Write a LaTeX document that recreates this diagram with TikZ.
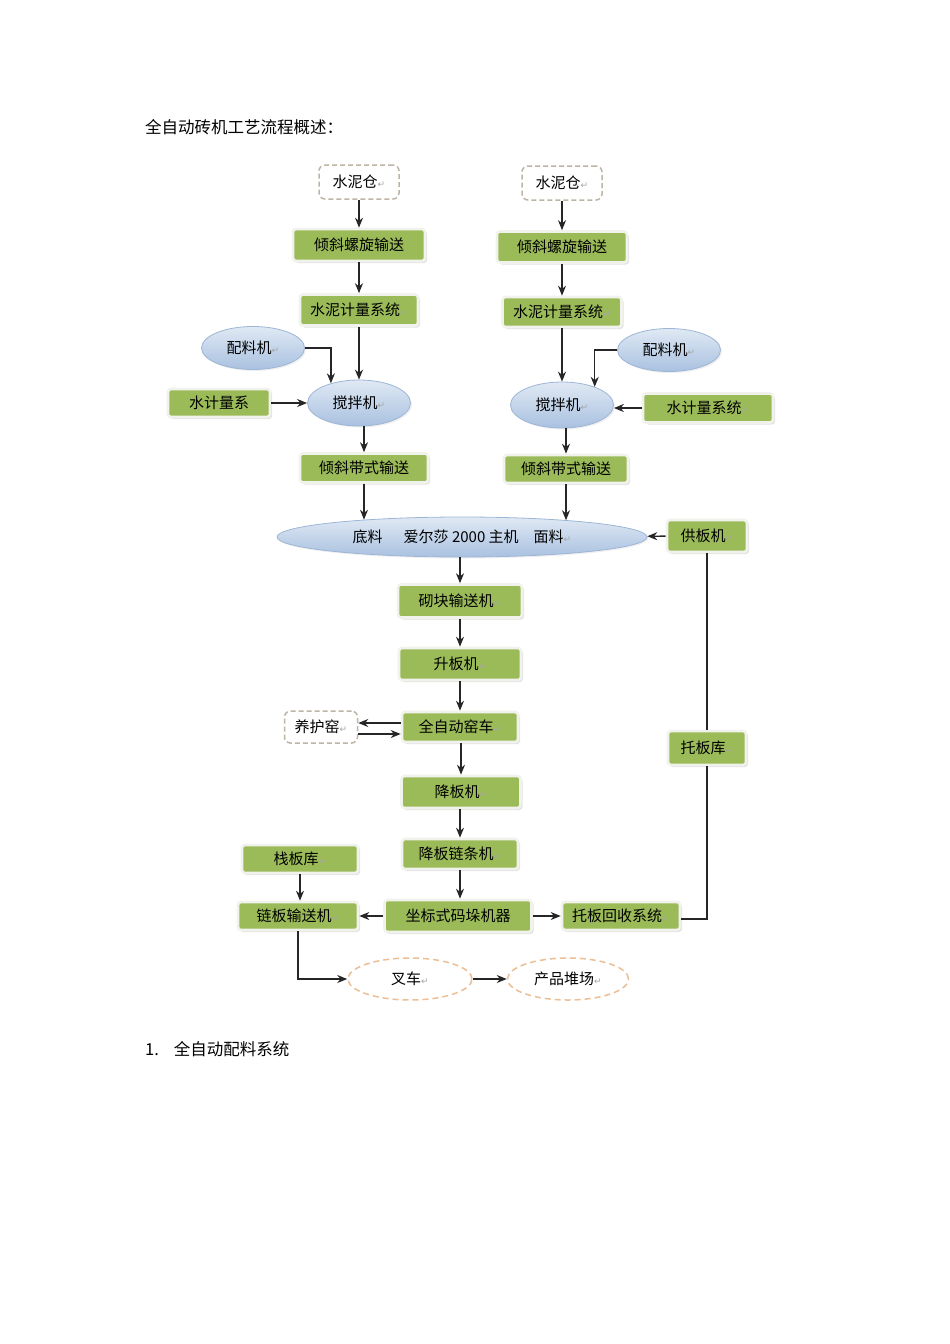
\documentclass[tikz,border=0pt]{standalone}
\usepackage{fontspec}
\setmainfont{Noto Sans CJK SC}
\newfontfamily\dvs{DejaVu Sans}
\usetikzlibrary{arrows.meta,positioning,shapes.geometric,shadows}
\definecolor{gfill}{HTML}{9BBB59}
\definecolor{grim}{HTML}{F2F2EC}
\definecolor{etop}{HTML}{E0E9F4}
\definecolor{ebot}{HTML}{A9C1E0}
\definecolor{eline}{HTML}{9DB5D6}
\definecolor{dbox}{HTML}{BDB5A6}
\definecolor{dell}{HTML}{EBBE94}
\newcommand{\parmk}{{\dvs\fontsize{9}{9}\selectfont\color{gray!70}↵}}
\tikzset{
  txt/.style={font=\fontsize{15}{18}\selectfont,inner sep=0pt,align=center},
  gbox/.style={txt,rectangle,fill=gfill,draw=grim,line width=2.6pt,rounded corners=3pt,
    drop shadow={shadow xshift=2pt,shadow yshift=-2pt,fill=gray!45}},
  bell/.style={txt,ellipse,top color=etop,bottom color=ebot,draw=eline,line width=0.8pt,
    drop shadow={shadow xshift=1.5pt,shadow yshift=-1.5pt,fill=gray!25}},
  dbx/.style={txt,rectangle,fill=white,draw=dbox,line width=1.5pt,dash pattern=on 5pt off 3pt,rounded corners=6pt},
  dell/.style={txt,ellipse,fill=white,draw=dell,line width=1.5pt,dash pattern=on 6pt off 4pt},
  ar/.style={-{Stealth[length=10pt,width=8pt]},line width=1.4pt,draw=black!85},
  ln/.style={line width=1.4pt,draw=black!85},
}
\begin{document}
\begin{tikzpicture}[x=1pt,y=-1pt]
\useasboundingbox (0,0) rectangle (950,1344);
\node[anchor=west,font=\fontsize{16.5}{20}\selectfont,inner sep=0pt] (title) at (145,127) {全自动砖机工艺流程概述：};
\node[dbx,minimum width=80,minimum height=34] (c1) at (359,182) {水泥仓\parmk};
\node[dbx,minimum width=80,minimum height=34] (c2) at (562,183) {水泥仓\parmk};
\node[gbox,minimum width=132,minimum height=32] (s1) at (359,245) {倾斜螺旋输送};
\node[gbox,minimum width=130,minimum height=31] (s2) at (562,247) {倾斜螺旋输送};
\node[gbox,minimum width=118,minimum height=31] (m1) at (359,310) {水泥计量系统\parmk};
\node[gbox,minimum width=119,minimum height=30] (m2) at (562,312) {水泥计量系统\parmk};
\node[bell,minimum width=103,minimum height=43] (p1) at (253,348) {配料机\parmk};
\node[bell,minimum width=103,minimum height=46] (x1) at (359,403) {搅拌机\parmk};
\node[gbox,minimum width=102,minimum height=28] (w1) at (219,403) {水计量系};
\node[gbox,minimum width=128,minimum height=29] (b1) at (364,468) {倾斜带式输送};
\node[bell,minimum width=103,minimum height=43] (p2) at (669,350) {配料机\parmk};
\node[bell,minimum width=103,minimum height=46] (x2) at (562,405) {搅拌机\parmk};
\node[gbox,minimum width=130,minimum height=29] (w2) at (708,408) {水计量系统\parmk};
\node[gbox,minimum width=124,minimum height=28] (b2) at (566,469) {倾斜带式输送};
\node[bell,minimum width=370,minimum height=40] (host) at (462,537)
  {底料\hspace{1.4em}爱尔莎 2000 主机\hspace{1em}面料\parmk};
\node[gbox,minimum width=80,minimum height=32] (gb) at (707,536) {供板机\parmk};
\node[gbox,minimum width=124,minimum height=33] (qk) at (460,601) {砌块输送机\parmk};
\node[gbox,minimum width=122,minimum height=32] (sb) at (460,664) {升板机\parmk};
\node[gbox,minimum width=116,minimum height=30] (yc) at (460,727) {全自动窑车\parmk};
\node[dbx,minimum width=73,minimum height=32] (yh) at (321,727) {养护窑\parmk};
\node[gbox,minimum width=119,minimum height=32] (jb) at (461,792) {降板机\parmk};
\node[gbox,minimum width=116,minimum height=30] (jl) at (460,854) {降板链条机\parmk};
\node[gbox,minimum width=147,minimum height=32] (md) at (458,916) {坐标式码垛机器};
\node[gbox,minimum width=120,minimum height=28] (lb) at (298,916) {链板输送机\parmk};
\node[gbox,minimum width=116,minimum height=28] (zk) at (300,859) {栈板库\parmk};
\node[gbox,minimum width=118,minimum height=28] (hs) at (621,916) {托板回收系统\parmk};
\node[gbox,minimum width=78,minimum height=34] (tk) at (707,748) {托板库\parmk};
\node[dell,minimum width=124,minimum height=42] (cc) at (410,979) {叉车\parmk};
\node[dell,minimum width=121,minimum height=42] (cp) at (568,979) {产品堆场\parmk};
\node[anchor=west,font=\fontsize{16.5}{20}\selectfont,inner sep=0pt] (sec) at (145,1049) {1.\hspace{0.9em}全自动配料系统};

\draw[ar] (c1) -- (s1);
\draw[ar] (s1) -- (m1);
\draw[ar] (m1) -- (x1);
\draw[ar] (p1.east) -| (x1.145);
\draw[ar] (w1) -- (x1);
\draw[ar] (x1.south -| b1.north) -- (b1.north);
\draw[ar] (b1.south) -- (b1.south |- host.170.3);
\draw[ar] (c2) -- (s2);
\draw[ar] (s2) -- (m2);
\draw[ar] (m2) -- (x2);
\draw[ar] (p2.west) -| (x2.29);
\draw[ar] (w2.west) -- (w2.west -| x2.east);
\draw[ar] (x2.south -| b2.north) -- (b2.north);
\draw[ar] (b2.south) -- (b2.south |- host.9);
\draw[ar] (gb) -- (host);
\draw[ln] (gb) -- (tk);
\draw[ar] (qk.north |- host.south) -- (qk.north);
\draw[ar] (qk) -- (sb);
\draw[ar] (sb) -- (yc);
\draw[ar] ([yshift=4pt]yc.west) -- ([yshift=4pt]yh.east);
\draw[ar] ([yshift=-7pt]yh.east) -- ([yshift=-7pt]yc.west);
\draw[ar] (yc.south -| jb.north) -- (jb.north);
\draw[ar] (jb.south -| jl.north) -- (jl.north);
\draw[ar] (jl.south) -- (jl.south |- md.north);
\draw[ar] (md) -- (lb);
\draw[ar] (md) -- (hs);
\draw[ar] (zk.south) -- (zk.south |- lb.north);
\draw[ar] (lb.south) |- (cc.west);
\draw[ar] (cc) -- (cp);
\draw[ln] ([yshift=-3pt]hs.east) -| (tk.south);
\end{tikzpicture}
\end{document}
